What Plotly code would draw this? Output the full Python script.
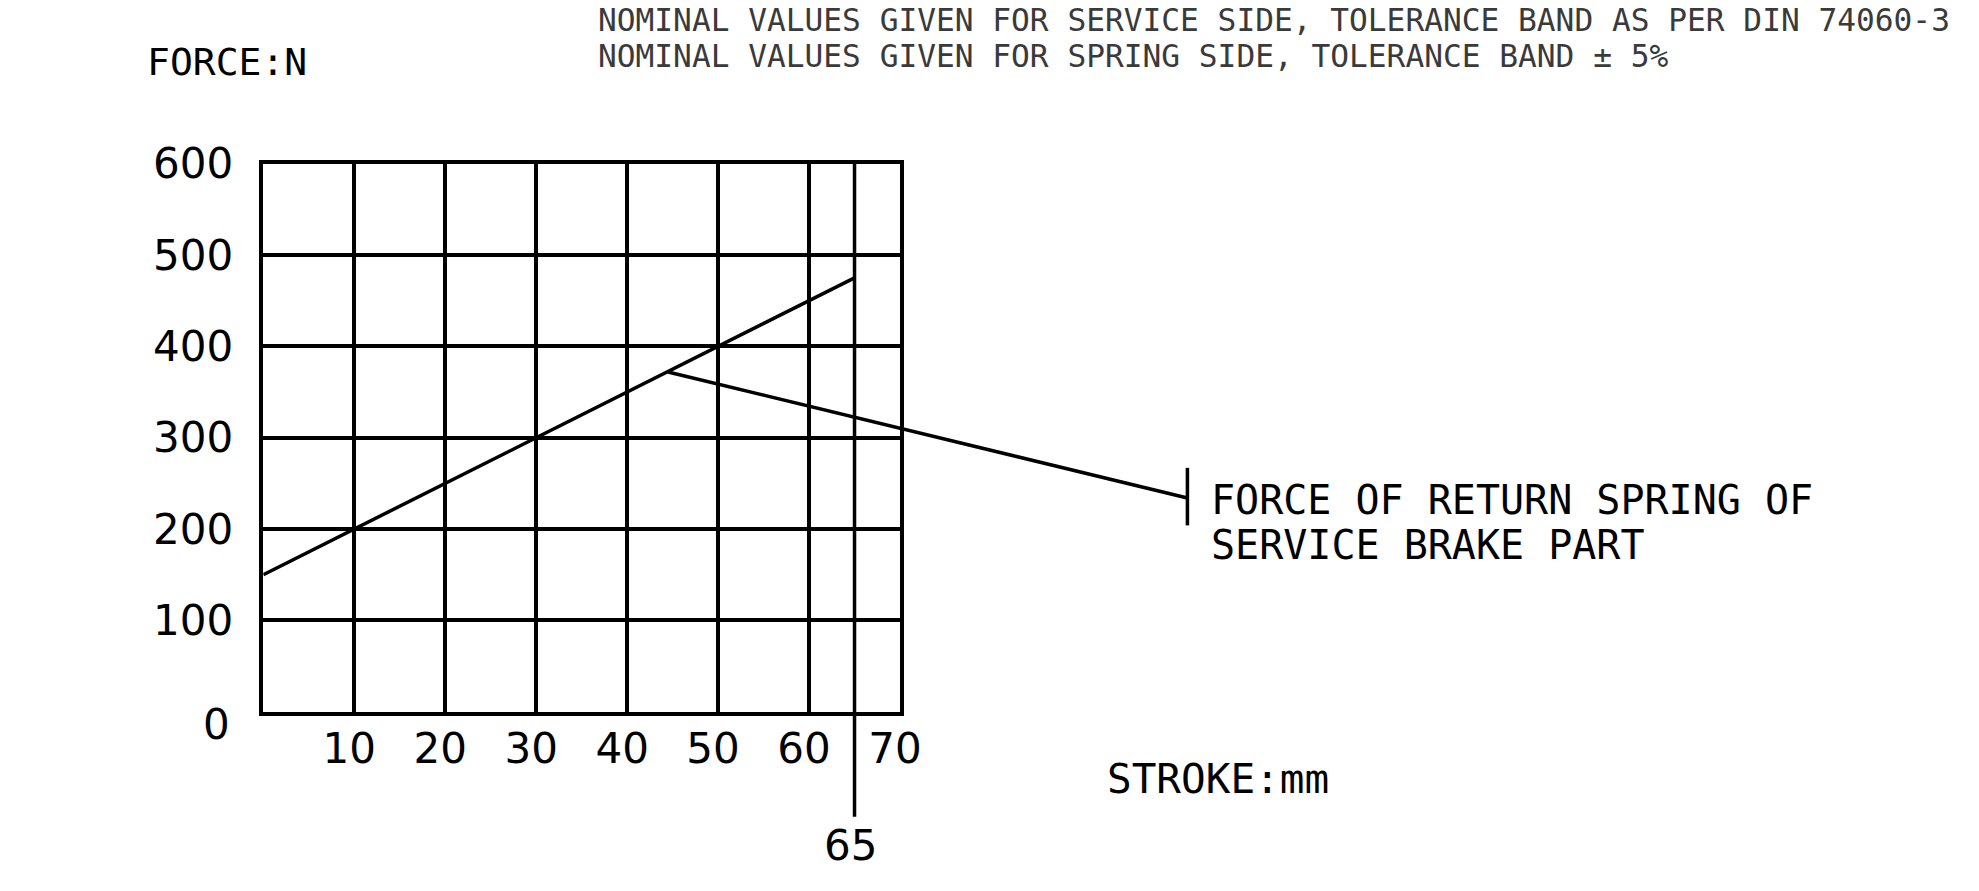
import plotly.graph_objects as go

W, H = 1979, 891          # browser window
OFF = 8                   # default body margin of the html page
FW, FH = W - OFF, H - OFF # figure size so it ends exactly at the window edge

# ---- data ----
stroke_mm = [0, 65]
force_n = [150, 475]
leader_x = [44.5, 101.6]
leader_y = [372, 234]
tick_bar_x = [101.6, 101.6]
tick_bar_y = [267, 204]
stroke_limit_x = [65, 65]
stroke_limit_y = [600, -115]
stroke_limit_label = "65"

x_ticks = [10, 20, 30, 40, 50, 60, 70]
y_ticks = [100, 200, 300, 400, 500, 600]
x_range = [0, 70]
y_range = [0, 600]

header_lines = [
    "NOMINAL VALUES GIVEN FOR SERVICE SIDE, TOLERANCE BAND AS PER DIN 74060-3",
    "NOMINAL VALUES GIVEN FOR SPRING SIDE, TOLERANCE BAND ± 5%",
]
spring_label_lines = ["FORCE OF RETURN SPRING OF", "SERVICE BRAKE PART"]
y_title = "FORCE:N"
x_title = "STROKE:mm"

# ---- layout geometry (screen pixels) ----
L, R, T, B = 263.3, 900.0, 163.7, 711.7

def fx(px):
    return (px - OFF) / FW

def fy(py):
    return 1 - (py - OFF) / FH

dom_x = [fx(L), fx(R)]
dom_y = [fy(B), fy(T)]
kx = (R - L) / (x_range[1] - x_range[0])
ky = (B - T) / (y_range[1] - y_range[0])
x2_range = [x_range[0] - (L - OFF) / kx, x_range[1] + (W - R) / kx]
y2_range = [y_range[0] - (H - B) / ky, y_range[1] + (T - OFF) / ky]

LW = 3.5
black = "black"
mono = "DejaVu Sans Mono"
tickfont = dict(family="DejaVu Sans", size=42, color=black)

fig = go.Figure()
line_style = dict(color=black, width=LW)
fig.add_trace(go.Scatter(x=stroke_mm, y=force_n, mode="lines", line=line_style,
                         xaxis="x", yaxis="y", showlegend=False, hoverinfo="skip"))
fig.add_trace(go.Scatter(x=leader_x, y=leader_y, mode="lines", line=line_style,
                         xaxis="x2", yaxis="y2", showlegend=False, hoverinfo="skip"))
fig.add_trace(go.Scatter(x=tick_bar_x, y=tick_bar_y, mode="lines", line=line_style,
                         xaxis="x2", yaxis="y2", showlegend=False, hoverinfo="skip"))
fig.add_trace(go.Scatter(x=stroke_limit_x, y=stroke_limit_y, mode="lines", line=line_style,
                         xaxis="x2", yaxis="y2", showlegend=False, hoverinfo="skip"))

annotations = []
def px_ann(text, px, py, size, family=mono, color=black, xanchor="left"):
    annotations.append(dict(text=text, x=fx(px), y=fy(py), xref="paper", yref="paper",
                            xanchor=xanchor, yanchor="middle", showarrow=False,
                            font=dict(family=family, size=size, color=color)))

px_ann(header_lines[0], 596, 20, 31.2, color="#3a3a3a")
px_ann(header_lines[1], 596, 56, 31.2, color="#3a3a3a")
px_ann(y_title, 145, 62, 38)
px_ann(x_title, 1105, 779, 41)
px_ann(spring_label_lines[0], 1209, 500, 40)
px_ann(spring_label_lines[1], 1209, 545, 40)

annotations.append(dict(text="0", x=-5.1, y=-14.5, xref="x2", yref="y2", showarrow=False,
                        xanchor="center", yanchor="middle", font=tickfont))
annotations.append(dict(text=stroke_limit_label, x=stroke_limit_x[0] - 0.4, y=-146,
                        xref="x2", yref="y2", showarrow=False,
                        xanchor="center", yanchor="middle", font=tickfont))

axis_common = dict(showgrid=True, gridcolor=black, gridwidth=LW, showline=True, mirror=True,
                   linecolor=black, linewidth=LW, zeroline=False, ticks="",
                   tickfont=tickfont, fixedrange=True, automargin=False)

fig.update_layout(
    width=FW, height=FH, autosize=False,
    margin=dict(l=0, r=0, t=0, b=0, pad=0, autoexpand=False),
    paper_bgcolor="white", plot_bgcolor="rgba(0,0,0,0)",
    showlegend=False,
    xaxis=dict(domain=dom_x, range=x_range, tickmode="array", tickvals=x_ticks,
               ticklabelstandoff=-3, ticklabelshift=-5, anchor="y", **axis_common),
    yaxis=dict(domain=dom_y, range=y_range, tickmode="array", tickvals=y_ticks,
               ticklabelstandoff=18, anchor="x", **axis_common),
    xaxis2=dict(domain=[0, 1], range=x2_range, visible=False, anchor="y2", fixedrange=True),
    yaxis2=dict(domain=[0, 1], range=y2_range, visible=False, anchor="x2", fixedrange=True),
    annotations=annotations,
)

fig.write_html("out.html")
